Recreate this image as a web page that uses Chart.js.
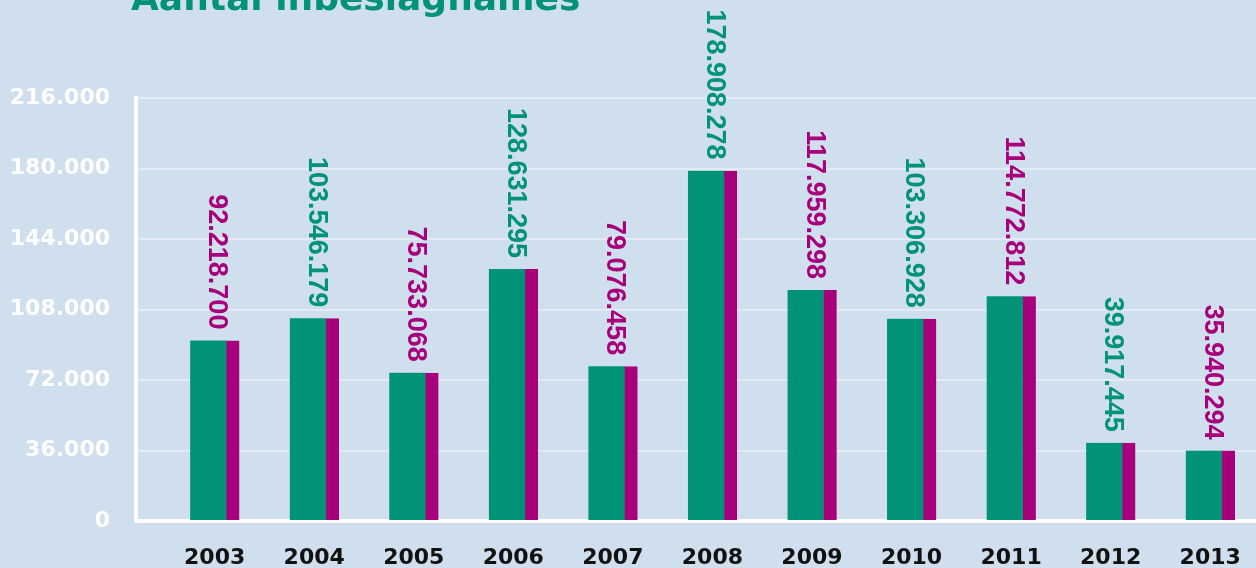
<!DOCTYPE html>
<html>
<head>
<meta charset="utf-8">
<title>Aantal inbeslagnames</title>
<script src="https://cdn.jsdelivr.net/npm/chart.js@4.4.1/dist/chart.umd.min.js"></script>
<style>
    html, body { margin: 0; padding: 0; background: #d0dfee; }
    canvas { display: block; }
</style>
</head>
<body>
<canvas id="chart" width="1256" height="568"></canvas>
<script>
const years = [2003, 2004, 2005, 2006, 2007, 2008, 2009, 2010, 2011, 2012, 2013];
const seizures = [92218700, 103546179, 75733068, 128631295, 79076458, 178908278, 117959298, 103306928, 114772812, 39917445, 35940294];
const yTicks = [0, 36000, 72000, 108000, 144000, 180000, 216000];

const GREEN = "#009378";
const MAGENTA = "#a8007b";

// 92218700 -> "92.218.700"
const dots = (v) => String(Math.round(v)).replace(/\B(?=(\d{3})+(?!\d))/g, ".");

// title sits mostly above the canvas, only its lower part is visible
const titlePlugin = {
    id: "cutTitle",
    afterDraw(chart) {
        const ctx = chart.ctx;
        ctx.save();
        ctx.font = "bold 36px 'DejaVu Sans'";
        ctx.fillStyle = GREEN;
        ctx.textAlign = "left";
        ctx.textBaseline = "alphabetic";
        ctx.fillText("Aantal inbeslagnames", 131, 10);
        ctx.restore();
    },
};

// vertical value labels above each bar
const valueLabels = {
    id: "valueLabels",
    afterDatasetsDraw(chart) {
        const ctx = chart.ctx;
        const meta = chart.getDatasetMeta(0);
        ctx.save();
        ctx.font = "bold 27px 'Liberation Sans'";
        ctx.textAlign = "right";
        ctx.textBaseline = "middle";
        meta.data.forEach((bar, i) => {
            ctx.save();
            ctx.translate(bar.x + 2, bar.y - 11);
            ctx.rotate(Math.PI / 2);
            ctx.fillStyle = i % 2 === 0 ? MAGENTA : GREEN;
            ctx.fillText(dots(seizures[i]), 0, 0);
            ctx.restore();
        });
        ctx.restore();
    },
};

new Chart(document.getElementById("chart"), {
    type: "bar",
    data: {
        labels: years,
        datasets: [{
            data: seizures.map((v) => v / 1000),
            backgroundColor: GREEN,
            borderColor: MAGENTA,
            borderWidth: { top: 0, left: 0, bottom: 0, right: 13 },
            borderSkipped: false,
            barThickness: 49,
        }],
    },
    options: {
        responsive: false,
        animation: false,
        devicePixelRatio: 1,
        layout: { padding: { top: 98, right: 0, bottom: 0, left: 0 } },
        plugins: {
            legend: { display: false },
            tooltip: { enabled: false },
        },
        scales: {
            x: {
                type: "linear",
                bounds: "data",
                offset: false,
                min: 2002.21,
                max: 2013.46,
                afterBuildTicks: (s) => { s.ticks = years.map((v) => ({ value: v })); },
                afterFit: (s) => {
                    s.height = 47;
                    s.paddingLeft = 0;
                    s.paddingRight = 0;
                },
                grid: { display: false, drawTicks: false },
                border: { display: true, color: "#ffffff", width: 4 },
                ticks: {
                    padding: 24,
                    maxRotation: 0,
                    autoSkip: false,
                    color: "#111111",
                    font: { family: "'DejaVu Sans'", size: 22, weight: "bold" },
                    callback: (v) => String(v),
                },
            },
            y: {
                min: 0,
                max: 216000,
                afterBuildTicks: (s) => { s.ticks = yTicks.map((v) => ({ value: v })); },
                afterFit: (s) => { s.width = 136; },
                grid: { color: "#e4eaf4", lineWidth: 2, drawTicks: false },
                border: { display: true, color: "#ffffff", width: 4 },
                ticks: {
                    padding: 26,
                    color: "#ffffff",
                    font: { family: "'DejaVu Sans'", size: 22, weight: "bold" },
                    callback: (v) => dots(v),
                },
            },
        },
    },
    plugins: [titlePlugin, valueLabels],
});
</script>
</body>
</html>
